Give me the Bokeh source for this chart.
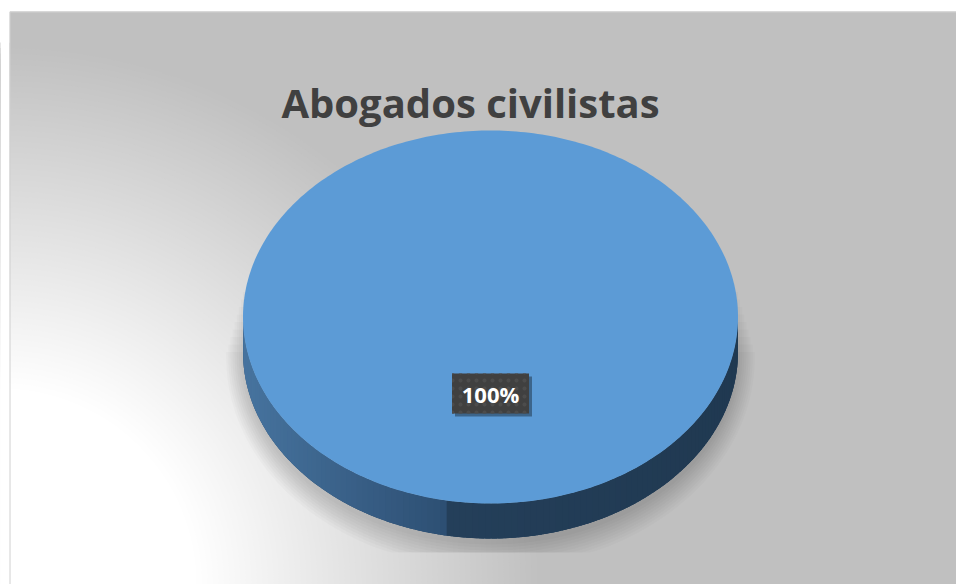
import numpy as np
from bokeh.plotting import figure
from bokeh.models import Range1d
from bokeh.core.properties import value
from bokeh.embed import file_html
from bokeh.resources import INLINE

# ---- data ----
categories = ["Abogados civilistas"]
values = [100]
title_text = "Abogados civilistas"

# ---- layout (screen pixel coordinates) ----
W, H = 956, 584
CX, CY, RX, RY, DEPTH = 490.0, 316.5, 247.5, 186.5, 35.0

p = figure(width=W, height=H, x_range=Range1d(0, W), y_range=Range1d(H, 0),
           output_backend="svg", toolbar_location=None, min_border=0)
p.axis.visible = False
p.grid.visible = False
p.outline_line_color = None
p.background_fill_color = "white"
p.border_fill_color = "white"

# background with radial light in the lower-left corner
p.quad(left=9, right=W, top=11, bottom=H, fill_color="#c0c0c0", line_color=None)
n = 64
radii = np.linspace(542, 196, n)
greys = np.linspace(192, 255, n).astype(int)
bg_cols = ["#%02x%02x%02x" % (g, g, g) for g in greys]
p.circle(x=[0.0] * n, y=[float(H)] * n, radius=radii, fill_color=bg_cols, line_color=None)
p.quad(left=0, right=9, top=0, bottom=H, fill_color="white", line_color=None)
p.line(x=[9.5, 9.5, W], y=[H, 11.5, 11.5], line_color="#d0d0d0", line_width=1)

# ---- shadow behind the pie ----
xs_sh, ys_sh = [], []
tt = np.linspace(np.pi, 0, 120)
for e in range(0, 27, 3):
    ex = RX + e * 0.7
    ey = RY + e
    bx = CX + ex * np.cos(tt)
    by = CY + DEPTH + 6 + ey * np.sin(tt)
    top = CY - 25 + e * 2.5
    px = np.concatenate([[CX - ex], bx, [CX + ex]])
    py = np.concatenate([[top], by, [top]])
    py = np.minimum(py, 552)
    xs_sh.append(px.tolist())
    ys_sh.append(py.tolist())
p.patches(xs_sh, ys_sh, fill_color="black", fill_alpha=0.02, line_color=None)

# ---- slices ----
vals = np.array(values, dtype=float)
fracs = vals / vals.sum()
ends = -np.pi / 2 + np.cumsum(fracs) * 2 * np.pi
starts = ends - fracs * 2 * np.pi


def lerp(c1, c2, u):
    a = np.array([int(c1[i:i + 2], 16) for i in (1, 3, 5)], dtype=float)
    b = np.array([int(c2[i:i + 2], 16) for i in (1, 3, 5)], dtype=float)
    c = a + (b - a) * u
    return "#%02x%02x%02x" % tuple(int(round(v)) for v in c)


def side_color(x):
    u = (x - (CX - RX)) / (2 * RX)
    if u < 0.42:
        return lerp("#47749f", "#2d4f73", u / 0.42)
    return lerp("#243f5a", "#203951", (u - 0.42) / 0.58)


# side (front half only), strips drawn right to left and overlapping
bx_all, by_all = [], []
sx, sy, sc = [], [], []
for s, e in zip(starts, ends):
    for k in range(-1, 2):
        lo = max(s, 0 + 2 * np.pi * k)
        hi = min(e, np.pi + 2 * np.pi * k)
        if hi <= lo:
            continue
        m = max(2, int((hi - lo) / np.pi * 120))
        t = np.linspace(lo, hi, m + 1)
        ox = CX + RX * np.cos(t)
        oy = CY + RY * np.sin(t)
        bx_all.append(np.concatenate([ox, ox[::-1]]).tolist())
        by_all.append(np.concatenate([oy, oy[::-1] + DEPTH]).tolist())
        step = t[1] - t[0]
        for a0, a1 in zip(t[:-1], t[1:]):
            a1e = min(a1 + step * 0.8, hi)
            x0, x1 = CX + RX * np.cos(a0), CX + RX * np.cos(a1e)
            y0, y1 = CY + RY * np.sin(a0), CY + RY * np.sin(a1e)
            sx.append([x0, x1, x1, x0])
            sy.append([y0, y1, y1 + DEPTH, y0 + DEPTH])
            xm = CX + RX * np.cos((a0 + a1) / 2)
            sc.append(side_color(xm))
p.patches(bx_all, by_all, fill_color="#2a4866", line_color=None)
p.patches(sx[::-1], sy[::-1], fill_color=sc[::-1], line_color=None)

# top faces
tx, ty = [], []
for s, e in zip(starts, ends):
    t = np.linspace(s, e, 361)
    x = CX + RX * np.cos(t)
    y = CY + RY * np.sin(t)
    if e - s < 2 * np.pi - 1e-9:
        x = np.concatenate([[CX], x])
        y = np.concatenate([[CY], y])
    tx.append(x.tolist())
    ty.append(y.tolist())
p.patches(tx, ty, fill_color="#5c9bd6", line_color=None)

# labels
mids = (starts + ends) / 2
lx = CX + 0.41 * RX * np.cos(mids)
ly = CY + 0.41 * RY * np.sin(mids)
labels = ["%d%%" % round(f * 100) for f in fracs]
p.rect(x=lx + 3, y=ly + 3, width=77, height=40, width_units="screen", height_units="screen",
       fill_color="black", fill_alpha=0.35, line_color=None)
p.rect(x=lx, y=ly, width=77, height=40, width_units="screen", height_units="screen",
       fill_color="#404040", line_color=None, hatch_pattern="dot", hatch_color="#4c4c4c",
       hatch_scale=8, hatch_weight=1.5)
p.text(x=lx, y=ly + 1, text=labels, text_font=value("Open Sans"), text_font_style="bold",
       text_font_size="22px", text_color="white", text_align="center", text_baseline="middle")

# title
p.text(x=[470], y=[102], text=[title_text], text_font=value("Open Sans"), text_font_style="bold",
       text_font_size="40px", text_color="#404040", text_align="center", text_baseline="middle")

open("out.html", "w").write(file_html(p, INLINE))
